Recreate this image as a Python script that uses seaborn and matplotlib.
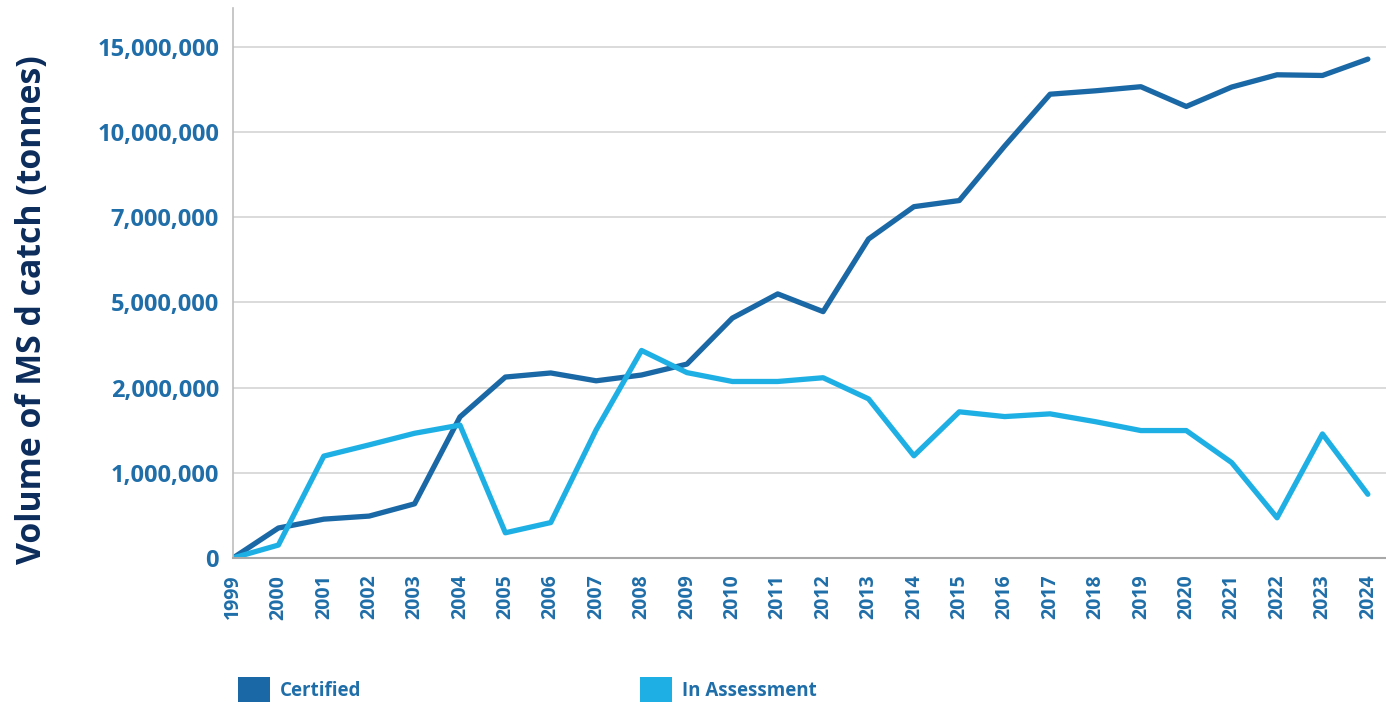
import pandas as pd
import seaborn as sns
import matplotlib.pyplot as plt
from matplotlib.patches import Patch

# Data (tonnes)
years = list(range(1999, 2025))
certified = [0, 880000, 1140000, 1230000, 1590000, 4140000, 5310000, 5430000,
             5200000, 5370000, 5690000, 7040000, 7750000, 7230000, 9360000,
             10310000, 10490000, 12090000, 13610000, 13710000, 13830000,
             13250000, 13820000, 14180000, 14160000, 14640000]
in_assessment = [0, 380000, 2990000, 3320000, 3660000, 3900000, 740000, 1040000,
                 3760000, 6090000, 5440000, 5180000, 5180000, 5290000, 4670000,
                 3000000, 4290000, 4150000, 4230000, 4000000, 3740000, 3740000,
                 2800000, 1180000, 3640000, 1870000]
series_names = ["Certified", "In Assessment"]
y_ticks = [0, 2500000, 5000000, 7500000, 10000000, 12500000, 15000000]
y_tick_labels = ["0", "1,000,000", "2,000,000", "5,000,000", "7,000,000",
                 "10,000,000", "15,000,000"]

COLORS = {"Certified": "#1a68a5", "In Assessment": "#1eb0e4"}
TICK_BLUE = "#1f6ea9"
NAVY = "#0c2d5c"


def main():
    df = pd.DataFrame({
        "year": years * 2,
        "volume": certified + in_assessment,
        "status": [series_names[0]] * len(years) + [series_names[1]] * len(years),
    })

    sns.set_style("white")
    plt.rcParams["font.family"] = ["Open Sans", "DejaVu Sans"]

    fig = plt.figure(figsize=(13.86, 7.07), dpi=100)
    ax = fig.add_axes([233 / 1386, 1 - 558 / 707, 1153 / 1386, 550 / 707])

    sns.lineplot(data=df, x="year", y="volume", hue="status", palette=COLORS,
                 linewidth=3.8, ax=ax, legend=False, sort=False)

    ax.set_xlim(1999, 2024.4)
    ax.set_ylim(0, 16140000)
    ax.set_xticks(years)
    ax.set_xticklabels([str(y) for y in years], rotation=90, fontsize=14,
                       fontweight="bold", color=TICK_BLUE)
    ax.set_yticks(y_ticks)
    ax.set_yticklabels(y_tick_labels, fontsize=17, fontweight="bold",
                       color=TICK_BLUE)
    ax.tick_params(axis="both", length=0)
    ax.tick_params(axis="x", pad=12)
    ax.tick_params(axis="y", pad=10)

    ax.yaxis.grid(True, color="#d4d4d4", linewidth=1.2)
    ax.set_axisbelow(True)
    for side in ["top", "right"]:
        ax.spines[side].set_visible(False)
    ax.spines["left"].set_color("#bdbdbd")
    ax.spines["left"].set_linewidth(1.2)
    ax.spines["bottom"].set_color("#a8a8a8")
    ax.spines["bottom"].set_linewidth(1.5)

    ax.set_xlabel("")
    ax.set_ylabel("Volume of MS d catch (tonnes)", fontsize=24.4,
                  fontweight="bold", color=NAVY)
    ax.yaxis.set_label_coords(-0.160, 0.451)

    # legend: two square swatches below the plot
    for name, xpos in [("Certified", 238), ("In Assessment", 640)]:
        fig.legend(handles=[Patch(facecolor=COLORS[name], edgecolor="none")],
                   labels=[name], loc="upper left",
                   bbox_to_anchor=(xpos / 1386, 1 - 677 / 707),
                   frameon=False, borderpad=0, borderaxespad=0,
                   handlelength=1.7, handleheight=1.7, handletextpad=0.55,
                   prop={"size": 13.5, "weight": "bold"}, labelcolor=TICK_BLUE)

    fig.savefig("out.png", dpi=100)
    plt.close(fig)


if __name__ == "__main__":
    main()
